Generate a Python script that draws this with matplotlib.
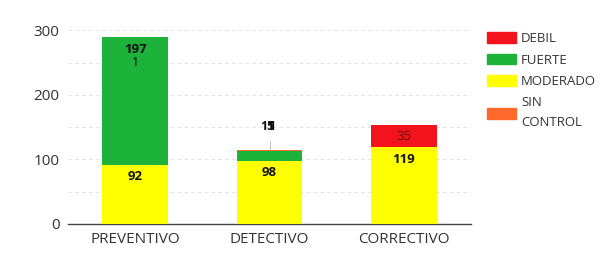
import matplotlib
matplotlib.use('Agg')
import numpy as np
import matplotlib.pyplot as plt
from matplotlib.patches import Patch

# datos
categorias = ['PREVENTIVO', 'DETECTIVO', 'CORRECTIVO']
moderado = [92, 98, 119]
fuerte = [197, 15, 0]
sin_control = [0, 1, 0]
debil = [1, 1, 35]

colores = {'DEBIL': '#f2131c', 'FUERTE': '#1db33a',
           'MODERADO': '#ffff00', 'SIN CONTROL': '#ff6a2a'}

plt.rcParams['font.family'] = ['Open Sans', 'DejaVu Sans']

fig = plt.figure(figsize=(6.07, 2.65), dpi=100)
ax = fig.add_axes([0.112, 0.155, 0.664, 0.743])

x = np.arange(len(categorias))
ancho = 0.49

series = [('MODERADO', moderado), ('FUERTE', fuerte),
          ('SIN CONTROL', sin_control), ('DEBIL', debil)]

base = np.zeros(len(categorias))
pequenos = [[] for _ in categorias]
for nombre, vals in series:
    vals = np.array(vals, dtype=float)
    ax.bar(x, vals, ancho, bottom=base, color=colores[nombre],
           edgecolor='none', zorder=3)
    for i, v in enumerate(vals):
        if v >= 20:
            tenue = nombre == 'DEBIL'
            ax.annotate(f'{int(v)}', (x[i], base[i] + v), xytext=(0, -4),
                        textcoords='offset points', ha='center', va='top',
                        fontsize=9.5, fontweight='normal' if tenue else 'bold',
                        color='#6a1010' if tenue else '#111111', zorder=5)
        elif v > 0:
            pequenos[i].append(int(v))
    base += vals

# etiquetas de segmentos pequeños (se amontonan como en el original)
for i, vals in enumerate(pequenos):
    if not vals:
        continue
    if i == 0:
        ax.annotate(str(vals[0]), (x[i], base[i]), xytext=(0, -14),
                    textcoords='offset points', ha='center', va='top',
                    fontsize=9, color='#111111', zorder=5)
    else:
        ax.plot([x[i], x[i]], [base[i], base[i] + 14], color='#bbbbbb',
                lw=0.6, zorder=2)
        for k, v in enumerate(vals):
            ax.annotate(str(v), (x[i], base[i]), xytext=(k * 1.5 - 1.5, 12),
                        textcoords='offset points', ha='center', va='bottom',
                        fontsize=9, fontweight='bold', color='#111111', zorder=5)

ax.set_xlim(-0.5, 2.5)
ax.set_ylim(0, 305)
ax.set_yticks([0, 100, 200, 300])
ax.set_yticks([50, 150, 250], minor=True)
ax.set_xticks(x)
ax.set_xticklabels(categorias)
ax.tick_params(axis='both', length=0, labelsize=11, labelcolor='#333333', pad=6)
ax.tick_params(axis='y', which='minor', length=0)
ax.grid(axis='y', which='both', color='#e4e4e4', linestyle=(0, (4, 3)), lw=0.7, zorder=0)
for s in ['top', 'right', 'left']:
    ax.spines[s].set_visible(False)
ax.spines['bottom'].set_color('#444444')
ax.spines['bottom'].set_linewidth(1.0)

manejadores = [Patch(color=colores[n]) for n in ['DEBIL', 'FUERTE', 'MODERADO', 'SIN CONTROL']]
leyenda = fig.legend(manejadores, ['DEBIL', 'FUERTE', 'MODERADO', 'SIN\nCONTROL'],
                     loc='upper left', bbox_to_anchor=(0.793, 0.898), frameon=False,
                     fontsize=9.5, labelcolor='#333333', handlelength=2.2, handleheight=0.9,
                     handletextpad=0.4, labelspacing=0.62, borderaxespad=0)
for t in leyenda.get_texts():
    t.set_linespacing(1.75)

fig.savefig('out.png', dpi=100)
